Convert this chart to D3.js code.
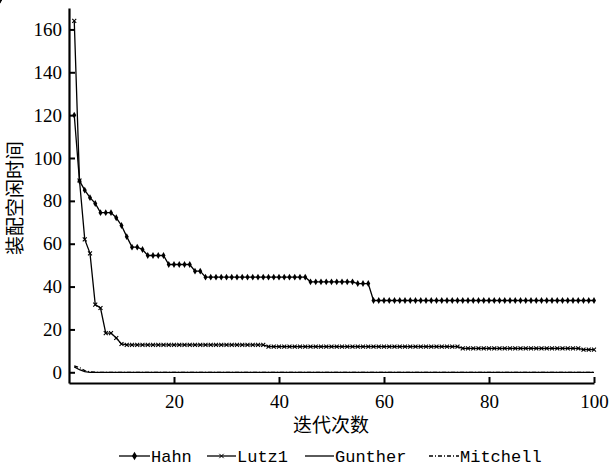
<!DOCTYPE html>
<html><head><meta charset="utf-8">
<script src="https://cdn.jsdelivr.net/npm/d3@7"></script>
<style>
body{margin:0}
.tk text{font-family:"Liberation Serif";font-size:19px}
.lg{font-family:"Liberation Mono";font-size:17px}
.ttl{font-family:"Noto Sans CJK SC";font-size:19px}
</style>
</head><body><svg id="c" width="611" height="471"></svg>
<script>
const iterations = [1,2,3,4,5,6,7,8,9,10,11,12,13,14,15,16,17,18,19,20,21,22,23,24,25,26,27,28,29,30,31,32,33,34,35,36,37,38,39,40,41,42,43,44,45,46,47,48,49,50,51,52,53,54,55,56,57,58,59,60,61,62,63,64,65,66,67,68,69,70,71,72,73,74,75,76,77,78,79,80,81,82,83,84,85,86,87,88,89,90,91,92,93,94,95,96,97,98,99,100];
const hahn = [120,89.3,85,81.5,78.8,74.5,74.5,74.5,72.1,68.5,63.3,58.4,58.4,57.3,54.5,54.5,54.5,54.5,50.3,50.3,50.3,50.3,50.3,47.2,47.2,
  44.4,44.4,44.4,44.4,44.4,44.4,44.4,44.4,44.4,44.4,44.4,44.4,44.4,44.4,44.4,44.4,44.4,44.4,44.4,44.4,
  42.2,42.2,42.2,42.2,42.2,42.2,42.2,42.2,42.2,41.4,41.4,41.4,
  33.5,33.5,33.5,33.5,33.5,33.5,33.5,33.5,33.5,33.5,33.5,33.5,33.5,33.5,33.5,33.5,33.5,33.5,33.5,33.5,33.5,33.5,33.5,33.5,33.5,33.5,33.5,33.5,33.5,33.5,33.5,33.5,33.5,33.5,33.5,33.5,33.5,33.5,33.5,33.5,33.5,33.5,33.5,33.5,33.5];
const lutz1 = [164,89.5,62,55.5,31.6,30,18.3,18.3,16,13.2,
  12.8,12.8,12.8,12.8,12.8,12.8,12.8,12.8,12.8,12.8,12.8,12.8,12.8,12.8,12.8,12.8,12.8,12.8,12.8,12.8,12.8,12.8,12.8,12.8,12.8,12.8,12.8,
  12.0,12.0,12.0,12.0,12.0,12.0,12.0,12.0,12.0,12.0,12.0,12.0,12.0,12.0,12.0,12.0,12.0,12.0,12.0,12.0,12.0,12.0,12.0,12.0,12.0,12.0,12.0,12.0,12.0,12.0,12.0,12.0,12.0,12.0,12.0,12.0,12.0,
  11.2,11.2,11.2,11.2,11.2,11.2,11.2,11.2,11.2,11.2,11.2,11.2,11.2,11.2,11.2,11.2,11.2,11.2,11.2,11.2,11.2,11.2,11.2,
  10.6,10.6,10.6];
const gunther = [2.5,1.2,0.3,0,0,0,0,0,0,0,0,0,0,0,0,0,0,0,0,0,0,0,0,0,0,0,0,0,0,0,0,0,0,0,0,0,0,0,0,0,0,0,0,0,0,0,0,0,0,0,0,0,0,0,0,0,0,0,0,0,0,0,0,0,0,0,0,0,0,0,0,0,0,0,0,0,0,0,0,0,0,0,0,0,0,0,0,0,0,0,0,0,0,0,0,0,0,0,0,0];
const mitchell = [3,2.2,0.8,0.2,0,0,0,0,0,0,0,0,0,0,0,0,0,0,0,0,0,0,0,0,0,0,0,0,0,0,0,0,0,0,0,0,0,0,0,0,0,0,0,0,0,0,0,0,0,0,0,0,0,0,0,0,0,0,0,0,0,0,0,0,0,0,0,0,0,0,0,0,0,0,0,0,0,0,0,0,0,0,0,0,0,0,0,0,0,0,0,0,0,0,0,0,0,0,0,0];
const xTicks = [20,40,60,80,100];
const yTicks = [0,20,40,60,80,100,120,140,160];
const seriesNames = ["Hahn","Lutz1","Gunther","Mitchell"];
const xTitle = "迭代次数";
const yTitle = "装配空闲时间";

const svg = d3.select("#c");
const x = d3.scaleLinear().domain([0,100]).range([69,594]);
const y = d3.scaleLinear().domain([-5,170]).range([383,8]);

// axes
const gx = svg.append("g").attr("class","tk").attr("transform",`translate(0,${y.range()[0]})`)
  .call(d3.axisBottom(x).tickValues(xTicks).tickSizeInner(-6).tickSizeOuter(0).tickPadding(12));
const gy = svg.append("g").attr("class","tk").attr("transform",`translate(${x.range()[0]},0)`)
  .call(d3.axisLeft(y).tickValues(yTicks).tickSizeInner(-6).tickSizeOuter(0).tickPadding(7));
[gx,gy].forEach(g=>{
  g.attr("font-family",null).attr("font-size",null);
  g.select(".domain").attr("stroke","#000").attr("stroke-width",2.2);
  g.selectAll(".tick line").attr("stroke","#000").attr("stroke-width",2);
  g.selectAll(".tick text").attr("fill","#000");
});

const series = [hahn,lutz1,gunther,mitchell];
const line = d3.line().x((d,i)=>x(iterations[i])).y(d=>y(d));
const dashes = [null,null,null,"4,2,1,2"];
series.forEach((s,k)=>{
  svg.append("path").datum(s).attr("d",line).attr("fill","none")
    .attr("stroke","#000").attr("stroke-width",1.3)
    .attr("stroke-dasharray",dashes[k]);
});
// markers
svg.append("g").selectAll("path").data(hahn).join("path")
  .attr("d",d3.symbol(d3.symbolDiamond,14))
  .attr("transform",(d,i)=>`translate(${x(iterations[i])},${y(d)})`).attr("fill","#000");
svg.append("g").selectAll("path").data(lutz1).join("path")
  .attr("d",d3.symbol(d3.symbolTimes,12))
  .attr("transform",(d,i)=>`translate(${x(iterations[i])},${y(d)})`)
  .attr("fill","none").attr("stroke","#000").attr("stroke-width",1.1);

// titles
svg.append("text").attr("class","ttl").attr("x",331).attr("y",432).attr("text-anchor","middle").text(xTitle);
svg.append("text").attr("class","ttl").attr("transform","translate(22,198) rotate(-90)").attr("text-anchor","middle").text(yTitle);

// legend
const legendItems = [
  {x1:119,x2:150,tx:151},
  {x1:207,x2:236,tx:237},
  {x1:305,x2:334,tx:335},
  {x1:429,x2:459,tx:460}
];
const ly = 456;
legendItems.forEach((it,k)=>{
  svg.append("line").attr("x1",it.x1).attr("x2",it.x2).attr("y1",ly).attr("y2",ly)
    .attr("stroke","#000").attr("stroke-width",1.3).attr("stroke-dasharray",dashes[k]);
  const cx=(it.x1+it.x2)/2;
  if(k===0) svg.append("path").attr("d",d3.symbol(d3.symbolDiamond,22)).attr("transform",`translate(${cx},${ly})`).attr("fill","#000");
  if(k===1) svg.append("path").attr("d",d3.symbol(d3.symbolTimes,14)).attr("transform",`translate(${cx},${ly})`).attr("fill","none").attr("stroke","#000");
  svg.append("text").attr("class","lg").attr("x",it.tx).attr("y",462).text(seriesNames[k]);
});
</script></body></html>
